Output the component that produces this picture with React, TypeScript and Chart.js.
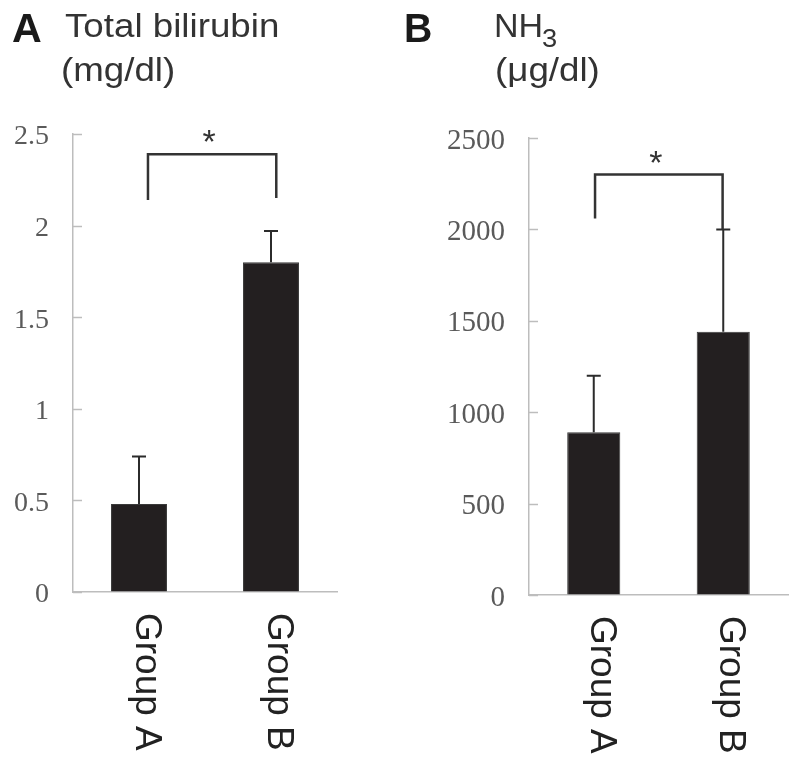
import React, { useEffect, useRef } from 'react';
import { Chart, registerables } from 'chart.js';

Chart.register(...registerables);

// ---- data ----
const groups = ['Group A', 'Group B'];
const bilirubinMean = [0.48, 1.8];
const bilirubinSD = [0.26, 0.17];
const bilirubinTicks = ['0', '0.5', '1', '1.5', '2', '2.5'];
const bilirubinBracketTop = 2.39;
const bilirubinBracketLegs = [2.14, 2.15];

const nh3Mean = [890, 1440];
const nh3SD = [310, 560];
const nh3Ticks = ['0', '500', '1000', '1500', '2000', '2500'];
const nh3BracketTop = 2300;
const nh3BracketLegs = [2060, 2000];

type PanelCfg = {
  mean: number[];
  sd: number[];
  tickLabels: string[];
  max: number;
  step: number;
  bracketTop: number;
  bracketLegs: number[];
  legOffsets: number[];
  padding: { top: number; right: number; left: number; bottom: number };
  yWidth: number;
  xHeight: number;
  barPct: number;
  left: number;
  tickSize: number;
};

const panelA: PanelCfg = {
  mean: bilirubinMean,
  sd: bilirubinSD,
  tickLabels: bilirubinTicks,
  max: 2.5,
  step: 0.5,
  bracketTop: bilirubinBracketTop,
  bracketLegs: bilirubinBracketLegs,
  legOffsets: [0.068, 0.04],
  padding: { top: 134, right: 63, left: 0, bottom: 0 },
  yWidth: 73,
  xHeight: 168,
  barPct: 0.424,
  left: 0,
  tickSize: 28,
};

const panelB: PanelCfg = {
  mean: nh3Mean,
  sd: nh3SD,
  tickLabels: nh3Ticks,
  max: 2500,
  step: 500,
  bracketTop: nh3BracketTop,
  bracketLegs: nh3BracketLegs,
  legOffsets: [0.01, -0.005],
  padding: { top: 138, right: 12, left: 0, bottom: 0 },
  yWidth: 129,
  xHeight: 165,
  barPct: 0.41,
  left: 400,
  tickSize: 29,
};

const overlay = (cfg: PanelCfg) => ({
  id: 'overlay',
  afterDatasetsDraw(chart: any) {
    const { ctx, chartArea } = chart;
    const x = chart.scales.x;
    const y = chart.scales.y;
    ctx.save();
    // inward y ticks
    ctx.strokeStyle = '#bdbdbd';
    ctx.lineWidth = 1.5;
    y.ticks.forEach((t: any) => {
      const py = Math.round(y.getPixelForValue(t.value)) + 0.5;
      ctx.beginPath();
      ctx.moveTo(chartArea.left, py);
      ctx.lineTo(chartArea.left + 9, py);
      ctx.stroke();
    });
    // error bars (upper only)
    ctx.strokeStyle = '#2b2b2b';
    ctx.lineWidth = 2;
    cfg.mean.forEach((m, i) => {
      const px = x.getPixelForValue(i);
      const y0 = y.getPixelForValue(m);
      const y1 = y.getPixelForValue(m + cfg.sd[i]);
      ctx.beginPath();
      ctx.moveTo(px, y0);
      ctx.lineTo(px, y1);
      ctx.moveTo(px - 7, y1);
      ctx.lineTo(px + 7, y1);
      ctx.stroke();
    });
    // significance bracket
    const xl = x.getPixelForValue(0 + cfg.legOffsets[0]);
    const xr = x.getPixelForValue(1 + cfg.legOffsets[1]);
    const yt = y.getPixelForValue(cfg.bracketTop);
    ctx.strokeStyle = '#333';
    ctx.lineWidth = 2.5;
    ctx.beginPath();
    ctx.moveTo(xl, y.getPixelForValue(cfg.bracketLegs[0]));
    ctx.lineTo(xl, yt);
    ctx.lineTo(xr, yt);
    ctx.lineTo(xr, y.getPixelForValue(cfg.bracketLegs[1]));
    ctx.stroke();
    ctx.fillStyle = '#333';
    ctx.font = '34px "Liberation Sans", Arial, sans-serif';
    ctx.textAlign = 'center';
    ctx.textBaseline = 'alphabetic';
    ctx.fillText('*', (xl + xr) / 2 - 3, yt - 1);
    // rotated category labels (reading top to bottom)
    ctx.fillStyle = '#222';
    ctx.font = '37px "Liberation Sans", Arial, sans-serif';
    ctx.textAlign = 'left';
    groups.forEach((g, i) => {
      const px = x.getPixelForValue(i);
      ctx.save();
      ctx.translate(px - 3, chartArea.bottom + 21);
      ctx.rotate(Math.PI / 2);
      ctx.fillText(g, 0, 0);
      ctx.restore();
    });
    ctx.restore();
  },
});

function Panel({ cfg }: { cfg: PanelCfg }) {
  const ref = useRef<HTMLCanvasElement>(null);
  useEffect(() => {
    if (!ref.current) return;
    const chart = new Chart(ref.current, {
      type: 'bar',
      data: {
        labels: groups,
        datasets: [
          {
            data: cfg.mean,
            backgroundColor: '#231f20',
            borderColor: '#3a3a3a',
            borderWidth: 1,
            categoryPercentage: 1,
            barPercentage: cfg.barPct,
          },
        ],
      },
      options: {
        responsive: false,
        animation: false,
        layout: { padding: cfg.padding },
        plugins: { legend: { display: false }, tooltip: { enabled: false } },
        scales: {
          x: {
            grid: { display: true, drawOnChartArea: false, drawTicks: false },
            border: { display: true, color: '#bdbdbd', width: 1.5 },
            ticks: { display: false },
            afterFit: (s: any) => {
              s.height = cfg.xHeight;
            },
          },
          y: {
            min: 0,
            max: cfg.max,
            grid: { display: true, drawOnChartArea: false, drawTicks: false },
            border: { display: true, color: '#bdbdbd', width: 1.5 },
            ticks: {
              stepSize: cfg.step,
              padding: 24,
              labelOffset: 3,
              color: '#5a5a5a',
              font: { family: '"Liberation Serif", "DejaVu Serif", serif', size: cfg.tickSize },
              callback: (_v: any, i: number) => cfg.tickLabels[i],
            },
            afterFit: (s: any) => {
              s.width = cfg.yWidth;
            },
          },
        },
      },
      plugins: [overlay(cfg)],
    } as any);
    return () => chart.destroy();
  }, [cfg]);
  return (
    <canvas
      ref={ref}
      width={400}
      height={760}
      style={{ position: 'absolute', left: cfg.left, top: 0, width: 400, height: 760 }}
    />
  );
}

const sans = '"Liberation Sans", Arial, sans-serif';
const txt = (left: number, top: number, size: number, bold = false, sx = 1.08): React.CSSProperties => ({
  position: 'absolute',
  left,
  top,
  fontSize: size,
  lineHeight: `${size}px`,
  fontFamily: sans,
  fontWeight: bold ? 700 : 400,
  color: bold ? '#1a1a1a' : '#333',
  whiteSpace: 'nowrap',
  display: 'inline-block',
  transform: `scaleX(${sx})`,
  transformOrigin: 'left top',
});

export default function App() {
  return (
    <div
      style={{
        position: 'absolute',
        left: 0,
        top: 0,
        width: 800,
        height: 760,
        background: '#fff',
        overflow: 'hidden',
      }}
    >
      <Panel cfg={panelA} />
      <Panel cfg={panelB} />
      <span style={txt(12, 8, 40, true, 1.03)}>A</span>
      <span style={txt(65, 8, 34)}>Total bilirubin</span>
      <span style={txt(61, 52, 34)}>(mg/dl)</span>
      <span style={txt(404, 8, 40, true, 0.98)}>B</span>
      <span style={txt(494, 8, 34, false, 1.0)}>NH</span>
      <span style={txt(542, 25, 26, false, 1.05)}>3</span>
      <span style={txt(495, 52, 34)}>(μg/dl)</span>
    </div>
  );
}
